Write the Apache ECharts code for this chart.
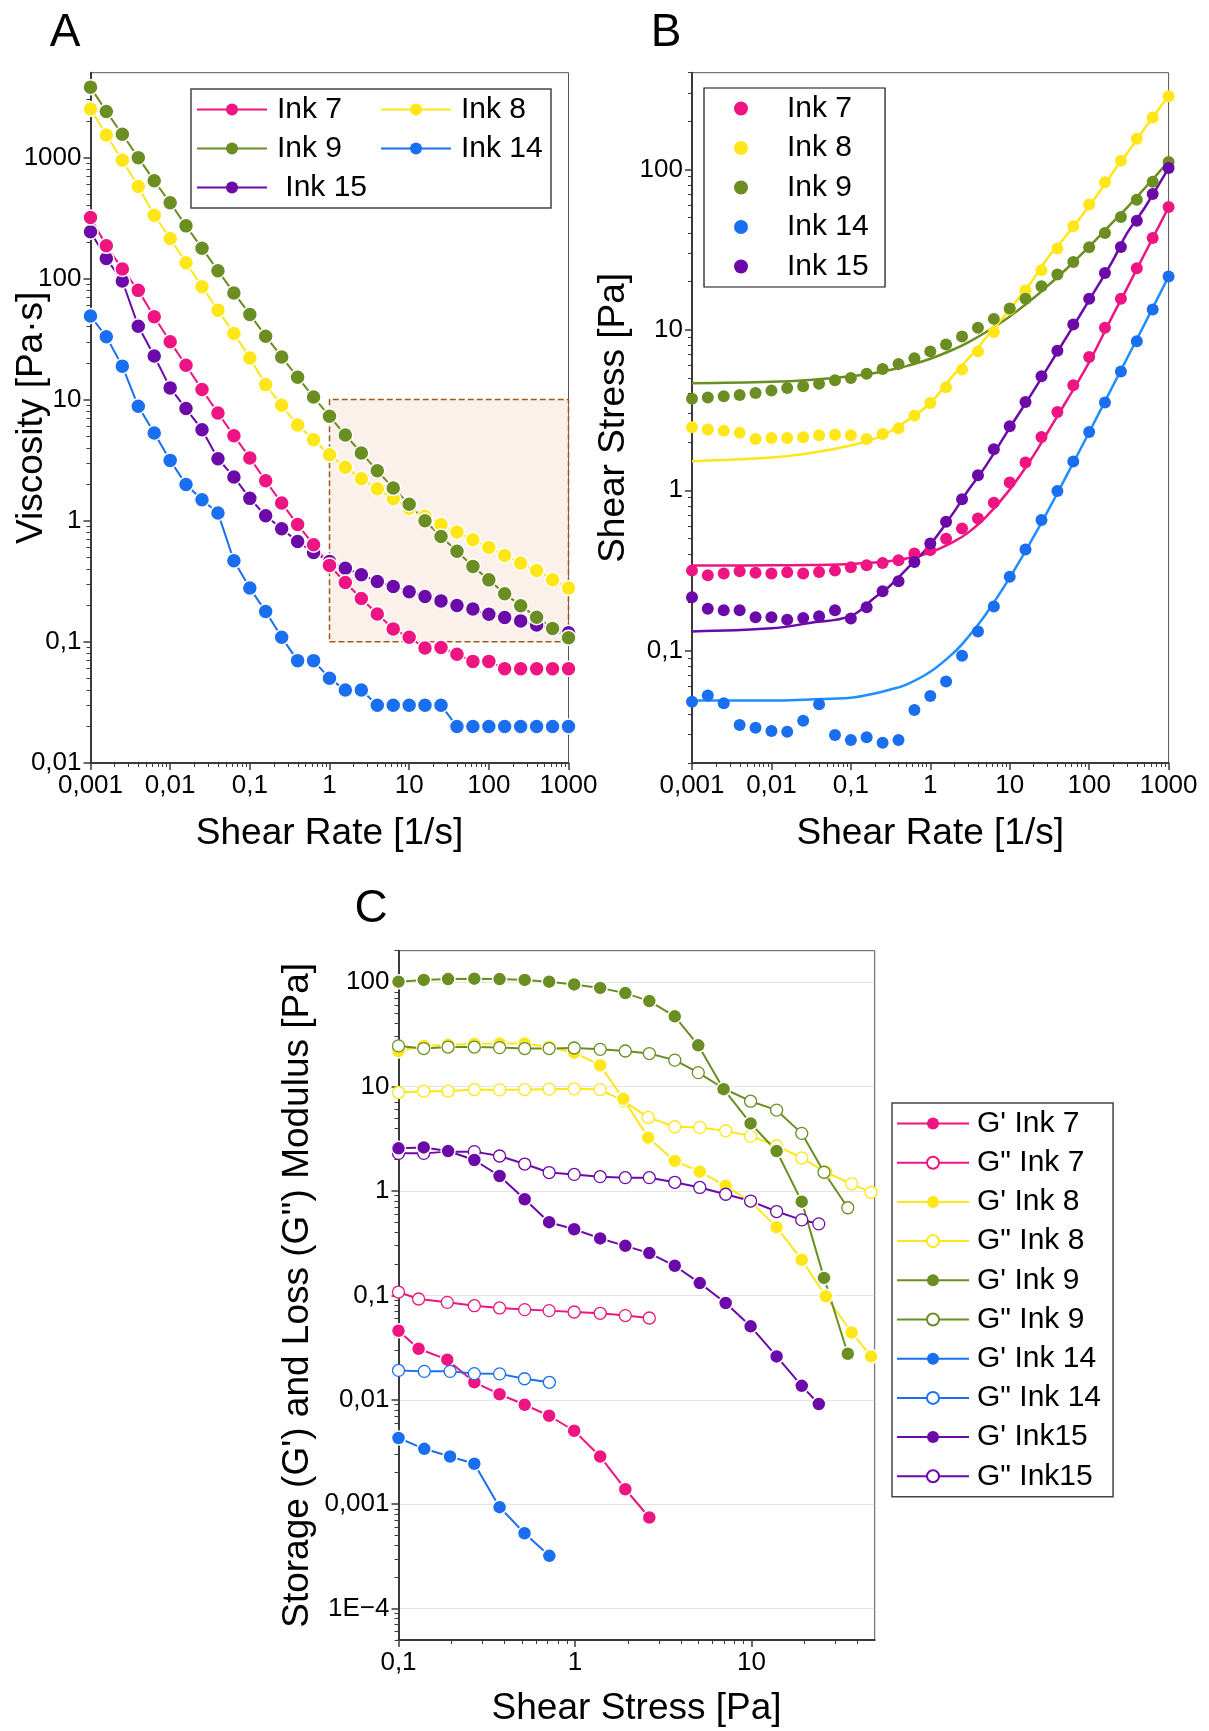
<!DOCTYPE html>
<html><head><meta charset="utf-8">
<script src="https://cdn.jsdelivr.net/npm/echarts@6/dist/echarts.min.js"></script>
<style>html,body{margin:0;padding:0;background:#fff}#c{width:1209px;height:1731px}</style>
</head><body><div id="c"></div>
<script>
// ---------------- Panel A : viscosity vs shear rate ----------------
const shearRate = [0.001, 0.00158, 0.00251, 0.00398, 0.00631, 0.01, 0.0158, 0.0251, 0.0398, 0.0631,
  0.1, 0.158, 0.251, 0.398, 0.631, 1, 1.58, 2.51, 3.98, 6.31, 10, 15.8, 25.1, 39.8, 63.1,
  100, 158, 251, 398, 631, 1000];
const viscInk7 = [319,186,120,79.8,48.3,30,19.2,12.1,7.76,5.04,3.3,2.14,1.4,0.93,0.634,0.428,0.309,0.228,0.17,0.128,0.109,0.089,0.09,0.079,0.069,0.069,0.06,0.06,0.06,0.06,0.06];
const viscInk8 = [2510,1530,945,575,333,214,135,85.5,54.8,35.2,22.1,13.3,8.97,6.17,4.67,3.51,2.76,2.22,1.84,1.52,1.27,1.09,0.93,0.806,0.697,0.602,0.517,0.447,0.389,0.325,0.278];
const viscInk9 = [3800,2390,1550,995,640,422,272,178,116,76,50.5,33.4,22.5,15.3,10.5,7.3,5.1,3.63,2.59,1.86,1.37,1.0,0.74,0.56,0.42,0.325,0.25,0.199,0.16,0.129,0.108];
const viscInk14 = [49,33,18.9,8.8,5.3,3.15,1.99,1.49,1.16,0.467,0.278,0.178,0.109,0.07,0.07,0.05,0.04,0.04,0.03,0.03,0.03,0.03,0.03,0.02,0.02,0.02,0.02,0.02,0.02,0.02,0.02];
const viscInk15 = [243,146,95.3,40.4,22.9,12.5,8.44,5.65,3.25,2.3,1.53,1.1,0.86,0.675,0.547,0.461,0.406,0.358,0.315,0.287,0.259,0.237,0.218,0.2,0.187,0.169,0.159,0.149,0.138,0.129,0.119];
const shadeRate = [1, 1000];
const shadeVisc = [0.1, 10];

// ---------------- Panel B : shear stress vs shear rate ----------------
const stressInk7 = [0.316,0.296,0.303,0.313,0.306,0.303,0.309,0.303,0.31,0.316,0.332,0.341,0.353,0.367,0.404,0.424,0.499,0.579,0.668,0.837,1.12,1.49,2.15,3.08,4.51,6.77,10.3,15.6,24.2,37.3,58.2];
const stressInk8 = [2.47,2.39,2.35,2.28,2.09,2.12,2.12,2.14,2.2,2.22,2.2,2.09,2.24,2.44,2.92,3.5,4.38,5.65,7.34,9.7,13.4,17.6,23.5,32.1,44.2,60.3,83,113,155,210,285];
const stressInk9 = [3.72,3.79,3.85,3.93,4.04,4.18,4.34,4.45,4.62,4.85,5.01,5.33,5.7,6.12,6.64,7.34,8.09,9.1,10.3,11.7,13.6,15.6,18.7,22.1,26.5,32.7,40.1,50.5,64.7,83.8,111];
const stressInk14 = [0.0482,0.0526,0.0471,0.0345,0.0332,0.0316,0.0313,0.0367,0.0464,0.0299,0.0278,0.0289,0.0267,0.0278,0.0428,0.0523,0.0643,0.0931,0.132,0.189,0.289,0.428,0.653,0.99,1.51,2.31,3.53,5.5,8.48,13.4,21.5];
const stressInk15 = [0.216,0.183,0.179,0.179,0.162,0.162,0.156,0.16,0.164,0.179,0.159,0.187,0.235,0.271,0.357,0.466,0.637,0.879,1.24,1.8,2.51,3.55,5.13,7.41,10.8,15.6,22.6,32.8,47.9,70.2,102];
// fitted curves
const fitRate = [0.001, 0.01, 0.03, 0.1, 0.2, 0.3, 0.5, 1, 2, 3, 5, 10, 20, 30, 50, 100, 200, 300, 500, 1000];
const fitInk7 = [0.34,0.341,0.342,0.348,0.355,0.362,0.376,0.41,0.48,0.545,0.68,1.01,1.65,2.3,3.5,6.3,12.4,18.2,29.8,58];
const fitInk8 = [1.52,1.6,1.7,1.9,2.1,2.3,2.7,3.5,5.3,6.6,8.9,13.4,20.8,28,38,59,96,126,180,288];
const fitInk9 = [4.64,4.74,4.87,5.13,5.39,5.6,5.94,6.6,7.58,8.36,9.66,12.1,15.8,18.8,23.6,33,47,57.8,76.2,112];
const fitInk14 = [0.049,0.049,0.0498,0.051,0.0542,0.057,0.0616,0.074,0.098,0.122,0.169,0.286,0.514,0.74,1.19,2.3,4.5,6.65,10.9,21.5];
const fitInk15 = [0.132,0.138,0.149,0.165,0.215,0.25,0.322,0.46,0.737,1.0,1.42,2.45,4.18,5.8,8.74,15.3,27.2,40,57.6,102];

// ---------------- Panel C : G' / G'' vs shear stress ----------------
const stressC7 = [0.1,0.13,0.189,0.269,0.374,0.519,0.714,0.99,1.39,1.93,2.64];
const gpInk7 = [0.0458,0.0308,0.0242,0.0147,0.0113,0.00895,0.00703,0.00505,0.00286,0.00139,0.000745];
const gppInk7 = [0.1076,0.0923,0.0857,0.0796,0.0757,0.073,0.0714,0.0693,0.0673,0.064,0.0607];
const stressC8 = [0.1,0.139,0.191,0.269,0.374,0.519,0.714,0.99,1.39,1.88,2.6,3.68,5.1,7.15,9.9,13.9,19.3,26.4,37,47.7];
const gpInk8 = [21.9,24.5,25.2,25.6,25.8,25.8,23.9,21.1,16,7.62,3.24,1.94,1.53,1.12,0.79,0.45,0.219,0.098,0.0441,0.026];
const gppInk8 = [8.77,9.02,9.02,9.35,9.29,9.35,9.44,9.51,9.35,7.3,5.06,4.12,4.06,3.77,3.35,2.71,2.07,1.51,1.17,0.97];
const stressC9 = [0.1,0.139,0.191,0.269,0.374,0.519,0.714,0.99,1.39,1.93,2.64,3.68,5.0,6.96,9.9,13.9,19.3,25.8,35.2];
const gpInk9 = [101,105,107,108,107,105,101,95,88,78.5,65.8,47,24.8,9.44,4.43,2.41,0.79,0.147,0.0276];
const gppInk9 = [24.5,23.1,23.9,23.9,23.6,23.1,23.1,23.4,22.7,21.9,20.7,17.9,13.6,9.58,7.24,5.94,3.56,1.51,0.69];
const stressC14 = [0.1,0.14,0.196,0.269,0.374,0.518,0.716];
const gpInk14 = [0.0043,0.00339,0.00286,0.00244,0.000936,0.000527,0.00032];
const gppInk14 = [0.0191,0.0187,0.0187,0.0178,0.0177,0.0159,0.0147];
const stressC15 = [0.1,0.139,0.191,0.269,0.374,0.519,0.714,0.99,1.39,1.93,2.64,3.68,5.1,7.15,9.9,13.9,19.3,24.1];
const gpInk15 = [2.56,2.61,2.41,1.98,1.39,0.832,0.502,0.43,0.351,0.298,0.254,0.192,0.131,0.0845,0.0505,0.026,0.0136,0.0091];
const gppInk15 = [2.29,2.29,2.38,2.38,2.16,1.81,1.5,1.44,1.37,1.34,1.34,1.21,1.08,0.93,0.8,0.635,0.528,0.484];

// ---------------- tick labels ----------------
const ticksRate = [0.001, 0.01, 0.1, 1, 10, 100, 1000];
const ticksVisc = [0.01, 0.1, 1, 10, 100, 1000];
const ticksStressB = [0.1, 1, 10, 100];
const ticksStressC = [0.1, 1, 10];
const ticksModulus = [0.0001, 0.001, 0.01, 0.1, 1, 10, 100];

// ---------------- styling ----------------
const FONT = "'Liberation Sans', Arial, Helvetica, sans-serif";
const C7 = '#ee1583', C8 = '#ffe619', C9 = '#6b8e23', C14 = '#1a6ef0', C14fit = '#1e8fff', C15 = '#6b0aa8';
const AX = '#3a3a3a';

function zip(xs, ys) { return xs.map((x, i) => [x, ys[i]]); }
function minorTicks(lo, hi) {
  const out = [];
  for (let e = lo; e < hi; e++) for (let m = 2; m <= 9; m++) out.push(+(m * Math.pow(10, e)).toPrecision(6));
  return out;
}
function fmt(v) {
  const n = +Number(v).toPrecision(6);
  if (n === 0.0001) return '1E\u22124';
  return String(n).replace('.', ',');
}
function mainAxis(gridIndex, min, max, ticks, extra) {
  return Object.assign({
    type: 'log', logBase: 10, gridIndex, min, max, silent: true,
    axisLine: { show: true, onZero: false, lineStyle: { color: AX, width: 2 } },
    axisTick: { show: true, inside: false, length: 7, customValues: ticks, lineStyle: { color: AX, width: 1.5 } },
    axisLabel: { show: true, customValues: ticks, formatter: fmt, color: '#000', fontFamily: FONT, fontSize: 26, margin: 10 },
    splitLine: { show: false }, minorTick: { show: false }, minorSplitLine: { show: false },
    nameLocation: 'middle', nameMoveOverlap: false,
    nameTextStyle: { fontFamily: FONT, fontSize: 37, color: '#000' }
  }, extra);
}
function minorAxis(gridIndex, min, max, ticks, position) {
  return {
    type: 'log', logBase: 10, gridIndex, min, max, position, silent: true,
    axisLine: { show: false, onZero: false },
    axisTick: { show: true, inside: false, length: 4, customValues: ticks, lineStyle: { color: AX, width: 1 } },
    axisLabel: { show: false }, splitLine: { show: false }, minorTick: { show: false }
  };
}
function lineSeries(name, xi, yi, xs, ys, color, size) {
  return {
    type: 'line', name, xAxisIndex: xi, yAxisIndex: yi, data: zip(xs, ys),
    symbol: 'circle', symbolSize: size, showSymbol: true, z: 2,
    lineStyle: { color, width: 2 },
    itemStyle: { color, borderColor: '#fff', borderWidth: 1.5, opacity: 1 },
    emphasis: { disabled: true }, animation: false
  };
}
function hollowSeries(name, xi, yi, xs, ys, color, size) {
  return {
    type: 'line', name, xAxisIndex: xi, yAxisIndex: yi, data: zip(xs, ys),
    symbol: 'circle', symbolSize: size, showSymbol: true, z: 2,
    lineStyle: { color, width: 2 },
    itemStyle: { color: '#fff', borderColor: color, borderWidth: 1.3, opacity: 1 },
    emphasis: { disabled: true }, animation: false
  };
}
function scatterSeries(name, xi, yi, xs, ys, color) {
  return {
    type: 'scatter', name, xAxisIndex: xi, yAxisIndex: yi, data: zip(xs, ys),
    symbol: 'circle', symbolSize: 12, z: 3, itemStyle: { color, opacity: 1 },
    emphasis: { disabled: true }, animation: false
  };
}
function fitSeries(name, xi, yi, xs, ys, color) {
  return {
    type: 'line', name, xAxisIndex: xi, yAxisIndex: yi, data: zip(xs, ys),
    showSymbol: false, symbol: 'none', smooth: 0.4, z: 2,
    lineStyle: { color, width: 2.5 }, emphasis: { disabled: true }, animation: false
  };
}

const gridCommon = { show: true, borderColor: '#555', borderWidth: 1, backgroundColor: 'transparent', containLabel: false, outerBoundsMode: 'none' };
const legendText = { fontFamily: FONT, fontSize: 30, color: '#000', lineHeight: 35 };
const solidIcon = { borderWidth: 0 };

const option = {
  animation: false,
  backgroundColor: '#fff',
  textStyle: { fontFamily: FONT },
  grid: [
    Object.assign({ left: 90.5, top: 72.7, width: 478, height: 690.3 }, gridCommon),
    Object.assign({ left: 692, top: 72.7, width: 476.6, height: 690.3 }, gridCommon),
    Object.assign({ left: 398.5, top: 950.7, width: 476.2, height: 689.3 }, gridCommon)
  ],
  xAxis: [
    mainAxis(0, 0.001, 1000, ticksRate, { position: 'bottom', name: 'Shear Rate [1/s]', nameGap: 52 }),
    minorAxis(0, 0.001, 1000, minorTicks(-3, 3), 'bottom'),
    mainAxis(1, 0.001, 1000, ticksRate, { position: 'bottom', name: 'Shear Rate [1/s]', nameGap: 52 }),
    minorAxis(1, 0.001, 1000, minorTicks(-3, 3), 'bottom'),
    mainAxis(2, 0.1, 50, ticksStressC, { position: 'bottom', name: 'Shear Stress [Pa]', nameGap: 50 }),
    minorAxis(2, 0.1, 50, minorTicks(-1, 2).filter(v => v < 50), 'bottom')
  ],
  yAxis: [
    mainAxis(0, 0.01, 5000, ticksVisc, { position: 'left', name: 'Viscosity [Pa·s]', nameGap: 40,
      axisLabel: { show: true, customValues: ticksVisc, formatter: fmt, color: '#000', fontFamily: FONT, fontSize: 26, margin: 9 } }),
    minorAxis(0, 0.01, 5000, minorTicks(-2, 4).filter(v => v < 5000), 'left'),
    mainAxis(1, 0.02, 400, ticksStressB, { position: 'left', name: 'Shear Stress [Pa]', nameGap: 60,
      axisLabel: { show: true, customValues: ticksStressB, formatter: fmt, color: '#000', fontFamily: FONT, fontSize: 26, margin: 9 } }),
    minorAxis(1, 0.02, 400, minorTicks(-2, 3).filter(v => v >= 0.02 && v <= 400), 'left'),
    mainAxis(2, 0.00005, 200, ticksModulus, { position: 'left', name: "Storage (G') and Loss (G'') Modulus [Pa]", nameGap: 82,
      axisLabel: { show: true, customValues: ticksModulus, formatter: fmt, color: '#000', fontFamily: FONT, fontSize: 26, margin: 9 },
      splitLine: { show: true, lineStyle: { color: '#c8c8c8', type: 'dotted', width: 1 } } }),
    minorAxis(2, 0.00005, 200, minorTicks(-5, 3).filter(v => v >= 0.00005 && v <= 200), 'left')
  ],
  legend: [
    { left: 191, top: 89, orient: 'horizontal', width: 352, padding: [3, 6, 3, 5], itemGap: 4,
      itemWidth: 70, itemHeight: 15, borderColor: '#444', borderWidth: 1.5, backgroundColor: '#fff',
      selectedMode: false, textStyle: Object.assign({ padding: [0, 0, 0, 5] }, legendText),
      data: [{ name: 'Ink 7', textStyle: { width: 99 }, itemStyle: solidIcon }, { name: 'Ink 8', textStyle: { width: 80 }, itemStyle: solidIcon },
             { name: 'Ink 9', textStyle: { width: 99 }, itemStyle: solidIcon }, { name: 'Ink 14', textStyle: { width: 84 }, itemStyle: solidIcon },
             { name: ' Ink 15', textStyle: { width: 99 }, itemStyle: solidIcon }] },
    { left: 704, top: 88, orient: 'vertical', padding: [3, 8, 3, 30], itemGap: 4.5,
      itemWidth: 14, itemHeight: 14, icon: 'circle', borderColor: '#111', borderWidth: 1.2, backgroundColor: '#fff',
      selectedMode: false, textStyle: Object.assign({ padding: [0, 0, 0, 34] }, legendText),
      data: ['Ink 7 ', 'Ink 8 ', 'Ink 9 ', 'Ink 14 ', 'Ink 15 '] },
    { left: 892, top: 1103, orient: 'vertical', padding: [3, 12, 3, 4], itemGap: 4.2,
      itemWidth: 72, itemHeight: 15, borderColor: '#444', borderWidth: 1.5, backgroundColor: '#fff',
      selectedMode: false, textStyle: Object.assign({ padding: [0, 0, 0, 3] }, legendText),
      data: [{ name: "G' Ink 7", itemStyle: solidIcon }, 'G" Ink 7', { name: "G' Ink 8", itemStyle: solidIcon }, 'G" Ink 8',
             { name: "G' Ink 9", itemStyle: solidIcon }, 'G" Ink 9', { name: "G' Ink 14", itemStyle: solidIcon }, 'G" Ink 14',
             { name: "G' Ink15", itemStyle: solidIcon }, 'G" Ink15'] }
  ],
  graphic: [
    { type: 'text', x: 65, y: 33, silent: true, style: { text: 'A', font: '46px ' + FONT, fill: '#000', align: 'center', verticalAlign: 'middle' } },
    { type: 'text', x: 666, y: 33, silent: true, style: { text: 'B', font: '46px ' + FONT, fill: '#000', align: 'center', verticalAlign: 'middle' } },
    { type: 'text', x: 371, y: 909, silent: true, style: { text: 'C', font: '46px ' + FONT, fill: '#000', align: 'center', verticalAlign: 'middle' } }
  ],
  series: [
    // Panel A
    lineSeries('Ink 14', 0, 0, shearRate, viscInk14, C14, 15),
    lineSeries(' Ink 15', 0, 0, shearRate, viscInk15, C15, 15),
    lineSeries('Ink 7', 0, 0, shearRate, viscInk7, C7, 15),
    lineSeries('Ink 8', 0, 0, shearRate, viscInk8, C8, 15),
    lineSeries('Ink 9', 0, 0, shearRate, viscInk9, C9, 15),
    { type: 'line', name: 'shade', xAxisIndex: 0, yAxisIndex: 0, data: [], z: 4, silent: true, animation: false,
      markArea: { silent: true, label: { show: false },
        itemStyle: { color: 'rgba(242,208,185,0.3)', borderColor: '#9c5a1e', borderWidth: 1.5, borderType: 'dashed' },
        data: [[{ coord: [shadeRate[0], shadeVisc[0]] }, { coord: [shadeRate[1], shadeVisc[1]] }]] } },
    // Panel B fits
    fitSeries('fit Ink 9', 2, 2, fitRate, fitInk9, C9),
    fitSeries('fit Ink 8', 2, 2, fitRate, fitInk8, C8),
    fitSeries('fit Ink 7', 2, 2, fitRate, fitInk7, C7),
    fitSeries('fit Ink 15', 2, 2, fitRate, fitInk15, C15),
    fitSeries('fit Ink 14', 2, 2, fitRate, fitInk14, C14fit),
    // Panel B points
    scatterSeries('Ink 7 ', 2, 2, shearRate, stressInk7, C7),
    scatterSeries('Ink 8 ', 2, 2, shearRate, stressInk8, C8),
    scatterSeries('Ink 9 ', 2, 2, shearRate, stressInk9, C9),
    scatterSeries('Ink 14 ', 2, 2, shearRate, stressInk14, C14),
    scatterSeries('Ink 15 ', 2, 2, shearRate, stressInk15, C15),
    // Panel C
    lineSeries("G' Ink 7", 4, 4, stressC7, gpInk7, C7, 14),
    hollowSeries('G" Ink 7', 4, 4, stressC7, gppInk7, C7, 12),
    hollowSeries('G" Ink 8', 4, 4, stressC8, gppInk8, C8, 12),
    lineSeries("G' Ink 8", 4, 4, stressC8, gpInk8, C8, 14),
    hollowSeries('G" Ink 9', 4, 4, stressC9, gppInk9, C9, 12),
    lineSeries("G' Ink 9", 4, 4, stressC9, gpInk9, C9, 14),
    lineSeries("G' Ink 14", 4, 4, stressC14, gpInk14, C14, 14),
    hollowSeries('G" Ink 14', 4, 4, stressC14, gppInk14, C14, 12),
    hollowSeries('G" Ink15', 4, 4, stressC15, gppInk15, C15, 12),
    lineSeries("G' Ink15", 4, 4, stressC15, gpInk15, C15, 14)
  ]
};

const chart = echarts.init(document.getElementById('c'), null, { renderer: 'canvas', width: 1209, height: 1731 });
chart.setOption(option);
</script>
</body></html>
